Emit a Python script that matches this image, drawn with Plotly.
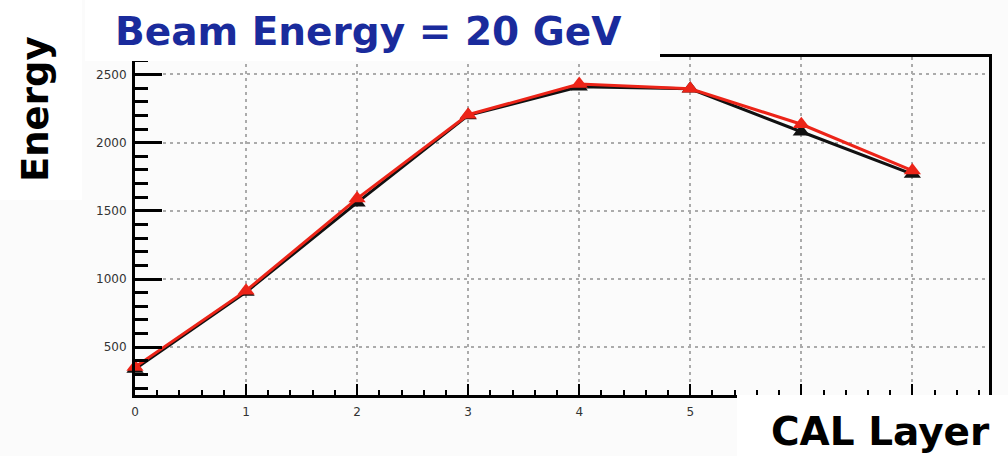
import plotly.graph_objects as go

# Energy deposited per calorimeter layer, 20 GeV beam
layers = [0, 1, 2, 3, 4, 5, 6, 7]
energy_black = [340, 905, 1560, 2200, 2410, 2395, 2080, 1770]
energy_red = [355, 915, 1590, 2205, 2430, 2395, 2135, 1795]

x_ticks = [0, 1, 2, 3, 4, 5, 6, 7]
# labels for layers 6 and 7 sit under the "CAL Layer" panel
x_tick_labels = ["0", "1", "2", "3", "4", "5", "", ""]
y_ticks = [500, 1000, 1500, 2000, 2500]
y_tick_labels = ["500", "1000", "1500", "2000", "2500"]

W, H = 1008, 456
L, R, T, B = 135, 19, 57, 61  # plot-area margins in pixels


def px_x(p):
    return (p - L) / (W - L - R)


def px_y(p):
    return (H - B - p) / (H - T - B)


fig = go.Figure()

fig.add_trace(go.Scatter(
    x=layers, y=energy_black, mode="lines+markers",
    line=dict(color="#111111", width=3),
    marker=dict(symbol="triangle-up", size=15, color="#111111"),
    cliponaxis=False, showlegend=False,
))
fig.add_trace(go.Scatter(
    x=layers, y=energy_red, mode="lines+markers",
    line=dict(color="#ec2418", width=3),
    marker=dict(symbol="triangle-up", size=15, color="#ec2418"),
    cliponaxis=False, showlegend=False,
))

grid = dict(showgrid=True, gridcolor="#ababab", gridwidth=2, griddash="3px,4px")
tickfont = dict(family="DejaVu Sans", size=12, color="#333333")

fig.update_xaxes(
    range=[0, 7.69], tickvals=x_ticks, ticktext=x_tick_labels,
    ticks="inside", ticklen=11, tickwidth=2, tickcolor="black",
    minor=dict(dtick=0.2, ticks="inside", ticklen=5, tickwidth=2,
               tickcolor="black", showgrid=False),
    showline=True, linecolor="black", linewidth=3, mirror=True,
    zeroline=False, tickfont=tickfont, ticklabelstandoff=4, **grid,
)
fig.update_yaxes(
    range=[150, 2628], tickvals=y_ticks, ticktext=y_tick_labels,
    ticks="inside", ticklen=27, tickwidth=3, tickcolor="black",
    minor=dict(dtick=100, ticks="inside", ticklen=13, tickwidth=3,
               tickcolor="black", showgrid=False),
    showline=True, linecolor="black", linewidth=3, mirror=True,
    zeroline=False, tickfont=tickfont, ticklabelstandoff=3, **grid,
)

# white label panels laid over the frame
panels = [
    (85, 0, 660, 61),     # title panel
    (0, 0, 82, 200),      # y label panel
    (737, 395, 1008, 456),  # x label panel
]
for x0, y0, x1, y1 in panels:
    fig.add_shape(type="rect", xref="paper", yref="paper",
                  x0=px_x(x0), x1=px_x(x1), y0=px_y(y1), y1=px_y(y0),
                  fillcolor="white", line=dict(width=0), layer="above")

fig.add_annotation(
    text="<b>Beam Energy = 20 GeV</b>", xref="paper", yref="paper",
    x=px_x(368), y=px_y(31), xanchor="center", yanchor="middle",
    showarrow=False, font=dict(family="DejaVu Sans", size=39, color="#1a2b9c"),
)
fig.add_annotation(
    text="<b>Energy</b>", xref="paper", yref="paper",
    x=px_x(35), y=px_y(109), xanchor="center", yanchor="middle",
    textangle=-90, showarrow=False,
    font=dict(family="DejaVu Sans", size=37, color="black"),
)
fig.add_annotation(
    text="<b>CAL Layer</b>", xref="paper", yref="paper",
    x=px_x(880), y=px_y(431), xanchor="center", yanchor="middle",
    showarrow=False, font=dict(family="DejaVu Sans", size=39, color="black"),
)

fig.update_layout(
    width=W, height=H,
    margin=dict(l=L, r=R, t=T, b=B, pad=0),
    paper_bgcolor="#fbfbfb", plot_bgcolor="#fbfbfb",
    showlegend=False,
)

fig.write_html("out.html")
